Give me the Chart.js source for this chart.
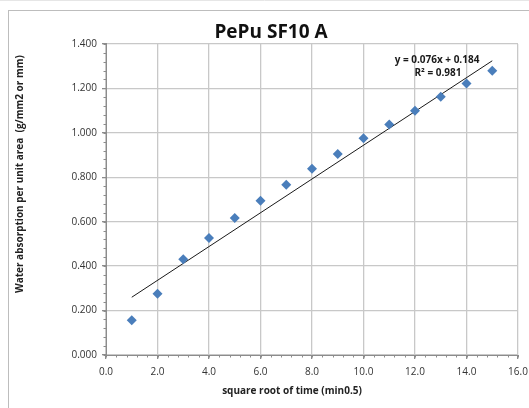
<!DOCTYPE html>
<html>
<head>
<meta charset="utf-8">
<script src="https://cdn.jsdelivr.net/npm/chart.js@4.4.1/dist/chart.umd.min.js"></script>
<style>
  html, body { margin: 0; padding: 0; background: #fff; }
  #wrap { width: 529px; height: 408px; position: relative; }
</style>
</head>
<body>
<div id="wrap"><canvas id="chart" width="529" height="408"></canvas></div>
<script>
// data
const sqrtTime = [1, 2, 3, 4, 5, 6, 7, 8, 9, 10, 11, 12, 13, 14, 15];
const absorption = [0.156, 0.276, 0.431, 0.527, 0.617, 0.694, 0.766, 0.838, 0.905, 0.975, 1.037, 1.099, 1.162, 1.222, 1.279];
const trendSlope = 0.076;
const trendIntercept = 0.184;
const trendRange = [1, 15];
const xTicks = [0, 2, 4, 6, 8, 10, 12, 14, 16];
const yTicks = [0, 0.2, 0.4, 0.6, 0.8, 1.0, 1.2, 1.4];

const FONT = "'Open Sans', 'Liberation Sans', sans-serif";
const GRID = '#c8c8c8';
const AXIS = '#8c8c8c';

// frame, minor ticks, axis titles and trend label
const decorations = {
    id: 'decorations',
    beforeDraw(chart) {
        const ctx = chart.ctx;
        ctx.save();
        ctx.fillStyle = '#fff';
        ctx.fillRect(0, 0, chart.width, chart.height);
        ctx.strokeStyle = '#bdbdbd';
        ctx.lineWidth = 1;
        ctx.strokeRect(8.5, 10.5, 560, 420);
        ctx.strokeStyle = '#e6e6e6';
        ctx.beginPath();
        ctx.moveTo(0, 0.5);
        ctx.lineTo(chart.width, 0.5);
        ctx.stroke();
        ctx.restore();
    },
    afterDraw(chart) {
        const ctx = chart.ctx;
        const xs = chart.scales.x, ys = chart.scales.y;
        const a = chart.chartArea;
        ctx.save();
        ctx.strokeStyle = AXIS;
        ctx.lineWidth = 1;
        ctx.beginPath();
        // minor ticks
        for (let v = 0; v <= 16.001; v += 0.4) {
            const px = Math.round(xs.getPixelForValue(v)) + 0.5;
            ctx.moveTo(px, a.bottom);
            ctx.lineTo(px, a.bottom + 2.5);
        }
        for (let v = 0; v <= 1.4001; v += 0.04) {
            const py = Math.round(ys.getPixelForValue(v)) + 0.5;
            ctx.moveTo(a.left - 2.5, py);
            ctx.lineTo(a.left, py);
        }
        ctx.stroke();

        ctx.fillStyle = '#222';
        ctx.font = "bold 10px " + FONT;
        ctx.textAlign = 'center';
        ctx.textBaseline = 'middle';
        ctx.fillText('square root of time (min0.5)', 292, 391);

        ctx.save();
        ctx.font = "bold 10px " + FONT;
        ctx.translate(20, 174);
        ctx.rotate(-Math.PI / 2);
        ctx.fillText('Water absorption per unit area  (g/mm2 or mm)', 0, 0);
        ctx.restore();

        ctx.font = "bold 10px " + FONT;
        ctx.fillStyle = '#1a1a1a';
        ctx.fillText('y = ' + trendSlope.toFixed(3) + 'x + ' + trendIntercept.toFixed(3), 437, 60);
        ctx.fillText('R² = 0.981', 438, 73);
        ctx.restore();
    }
};

const trendPoints = trendRange.map(x => ({ x: x, y: trendSlope * x + trendIntercept }));

new Chart(document.getElementById('chart'), {
    type: 'scatter',
    data: {
        datasets: [{
            label: 'data',
            data: sqrtTime.map((x, i) => ({ x: x, y: absorption[i] })),
            pointStyle: 'rectRot',
            pointRadius: 5,
            pointHoverRadius: 5,
            backgroundColor: '#4a7ebb',
            borderColor: '#4a7ebb',
            borderWidth: 0
        }, {
            label: 'trend',
            data: trendPoints,
            showLine: true,
            pointRadius: 0,
            borderColor: '#1a1a1a',
            borderWidth: 1,
            fill: false
        }]
    },
    options: {
        responsive: false,
        animation: false,
        layout: { padding: { left: 13, right: 0, top: 0, bottom: 0 } },
        plugins: {
            legend: { display: false },
            tooltip: { enabled: false },
            title: {
                display: true,
                text: 'PePu SF10 A',
                color: '#111',
                font: { family: FONT, size: 19, weight: 'bold', lineHeight: 1.1 },
                padding: { top: 22, bottom: 1 }
            }
        },
        scales: {
            x: {
                type: 'linear',
                min: 0,
                max: 16,
                afterBuildTicks: s => { s.ticks = xTicks.map(v => ({ value: v })); },
                afterFit: s => { s.height = 53; s.paddingLeft = 0; s.paddingRight = 11; },
                grid: { color: GRID, lineWidth: 1.3, tickLength: 4, tickColor: AXIS, drawTicks: true },
                border: { color: AXIS, width: 1 },
                ticks: {
                    padding: 7,
                    color: '#333',
                    font: { family: FONT, size: 10 },
                    callback: v => v.toFixed(1)
                }
            },
            y: {
                type: 'linear',
                min: 0,
                max: 1.4,
                afterBuildTicks: s => { s.ticks = yTicks.map(v => ({ value: v })); },
                afterFit: s => { s.width = 93; },
                grid: { color: GRID, lineWidth: 1.3, tickLength: 4, tickColor: AXIS },
                border: { color: AXIS, width: 1 },
                ticks: {
                    padding: 5,
                    color: '#333',
                    font: { family: FONT, size: 10 },
                    callback: v => v.toFixed(3)
                }
            }
        }
    },
    plugins: [decorations]
});
</script>
</body>
</html>
